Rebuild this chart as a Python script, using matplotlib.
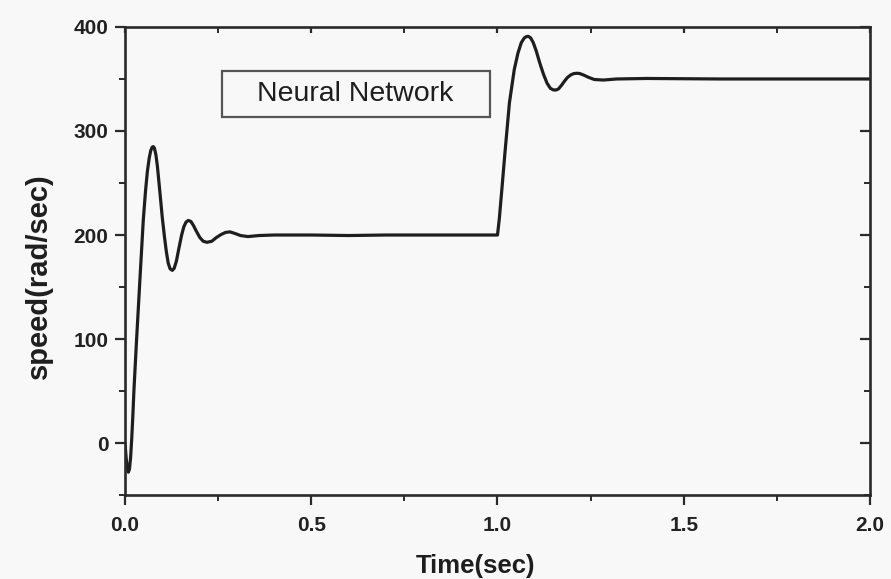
import matplotlib
matplotlib.use("Agg")
import matplotlib.pyplot as plt
from matplotlib.patches import Rectangle
from matplotlib.ticker import MultipleLocator

# Rotor speed response of the neural-network controlled drive
time_s = [0.000, 0.003, 0.006, 0.009, 0.012, 0.015, 0.018, 0.021, 0.024, 0.031,
          0.040, 0.049, 0.055, 0.060, 0.065, 0.069, 0.073, 0.076, 0.079, 0.083,
          0.087, 0.094, 0.100, 0.106, 0.111, 0.116, 0.121, 0.127, 0.132, 0.138,
          0.144, 0.152, 0.158, 0.164, 0.170, 0.177, 0.184, 0.191, 0.201, 0.210,
          0.220, 0.233, 0.245, 0.258, 0.270, 0.282, 0.295, 0.310, 0.330, 0.360,
          0.400, 0.500, 0.600, 0.700, 0.800, 0.900, 1.000, 1.005, 1.012, 1.020,
          1.032, 1.045, 1.055, 1.064, 1.072, 1.078, 1.083, 1.089, 1.096, 1.104,
          1.113, 1.123, 1.133, 1.142, 1.150, 1.157, 1.164, 1.172, 1.180, 1.188,
          1.197, 1.205, 1.213, 1.220, 1.230, 1.245, 1.260, 1.284, 1.320, 1.400,
          1.600, 1.800, 2.000]
speed = [0.0, -14.0, -24.0, -28.0, -25.0, -14.0, 4.0, 26.0, 51.0, 99.0,
         157.0, 214.0, 242.0, 261.0, 274.0, 281.0, 284.5, 285.0, 283.5, 277.0,
         266.0, 240.0, 217.0, 198.0, 184.0, 173.0, 167.5, 166.0, 168.0, 175.0,
         186.0, 200.0, 208.0, 212.5, 214.0, 213.0, 209.0, 204.0, 197.5, 194.0,
         193.0, 194.0, 197.5, 200.5, 202.5, 203.0, 201.5, 199.5, 198.5, 199.5,
         200.0, 200.0, 199.5, 200.0, 200.0, 200.0, 200.0, 216.0, 245.0, 279.0,
         327.0, 359.0, 375.0, 385.0, 389.5, 390.8, 391.0, 389.5, 385.0, 377.0,
         366.0, 355.0, 346.0, 341.0, 339.5, 339.4, 340.5, 344.0, 348.0, 351.5,
         354.0, 355.2, 355.5, 355.3, 354.0, 351.5, 349.5, 349.0, 350.0, 350.5,
         350.0, 350.0, 350.0]

x_ticks = [0.0, 0.5, 1.0, 1.5, 2.0]
x_tick_labels = ["0.0", "0.5", "1.0", "1.5", "2.0"]
y_ticks = [0, 100, 200, 300, 400]
y_tick_labels = ["0", "100", "200", "300", "400"]
legend_text = "Neural Network"

plt.rcParams["font.family"] = ["Liberation Sans", "DejaVu Sans"]

bg = "#f8f8f8"
ink = "#1e1e1e"

fig = plt.figure(figsize=(8.91, 5.79), dpi=100, facecolor=bg)
ax = fig.add_axes([0.1403, 0.145, 0.8361, 0.8084])
ax.set_facecolor(bg)

ax.plot(time_s, speed, color=ink, linewidth=2.3, solid_joinstyle="round",
        solid_capstyle="round")

ax.set_xlim(0.0, 2.0)
ax.set_ylim(-50, 400)

ax.set_xticks(x_ticks)
ax.set_xticklabels(x_tick_labels)
ax.set_yticks(y_ticks)
ax.set_yticklabels(y_tick_labels)
ax.xaxis.set_minor_locator(MultipleLocator(0.25))
ax.yaxis.set_minor_locator(MultipleLocator(50))

for side in ["left", "right", "top", "bottom"]:
    ax.spines[side].set_linewidth(1.9)
    ax.spines[side].set_color("#2a2a2a")

ax.tick_params(axis="both", which="major", direction="out", length=7, width=1.6,
               color="#2a2a2a", labelsize=15, pad=5, labelcolor="#222222")
ax.tick_params(axis="x", which="major", pad=8)
ax.tick_params(axis="both", which="minor", direction="out", length=4.5, width=1.4,
               color="#2a2a2a")
ax.tick_params(axis="x", which="both", top=True, labeltop=False)
ax.tick_params(axis="y", which="both", right=True, labelright=False)

# Top and right ticks point inwards
for tick in ax.xaxis.get_major_ticks() + ax.xaxis.get_minor_ticks():
    tick.tick2line.set_marker(3)
    tick.tick2line.set_markersize(4.5)
for tick in ax.yaxis.get_major_ticks() + ax.yaxis.get_minor_ticks():
    tick.tick2line.set_marker(0)

for lab in ax.get_xticklabels() + ax.get_yticklabels():
    lab.set_fontweight("bold")

ax.set_xlabel("Time(sec)", fontsize=18.5, fontweight="bold", color=ink,
              ha="center", va="center")
ax.xaxis.set_label_coords(0.47, -0.152)
ax.set_ylabel("speed(rad/sec)", fontsize=21, fontweight="bold", color=ink,
              ha="center", va="center")
ax.yaxis.set_label_coords(-0.115, 0.468)

# Series name box
ax.add_patch(Rectangle((0.260, 313.5), 0.720, 44.2, facecolor=bg, edgecolor="#555555",
                       linewidth=1.6, zorder=3))
ax.text(0.619, 336.0, legend_text, fontsize=20.5, color=ink, ha="center", va="center",
        zorder=4)

fig.savefig("out.png", dpi=100, facecolor=fig.get_facecolor())
